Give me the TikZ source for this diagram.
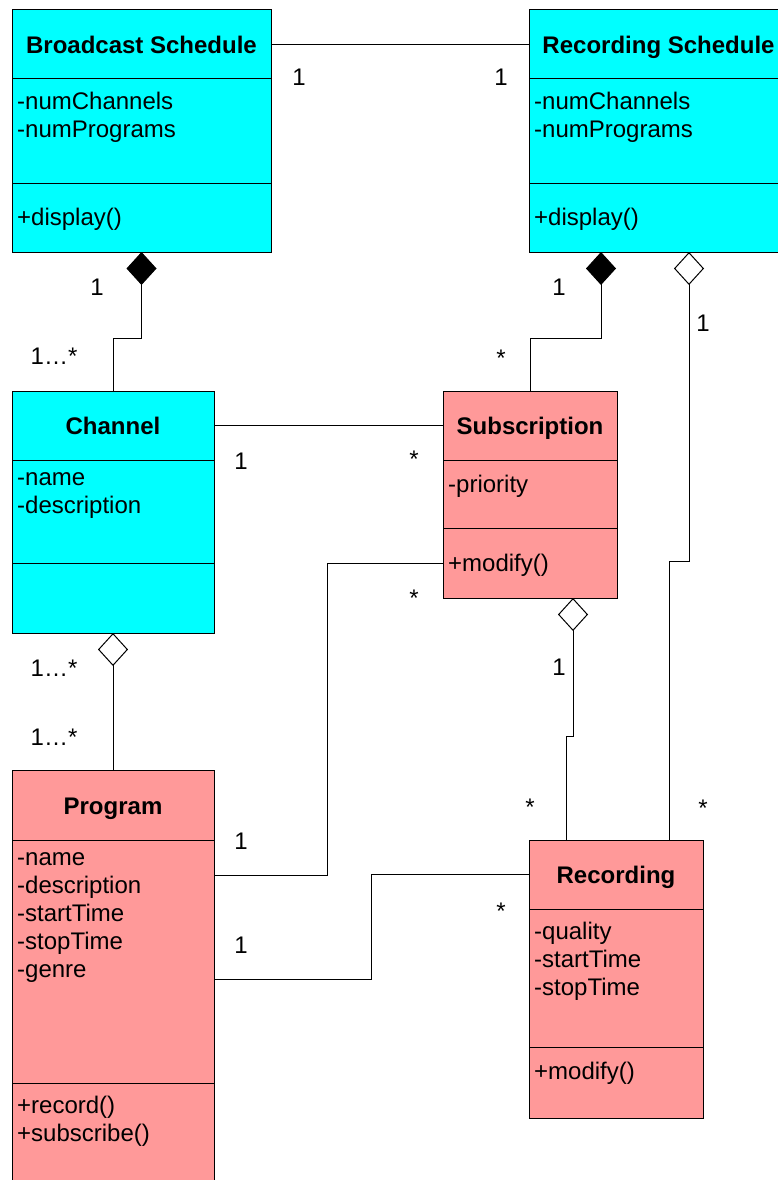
\documentclass[tikz,border=0pt]{standalone}
\usepackage{fontspec}
\setmainfont{Liberation Sans}
\usetikzlibrary{positioning,arrows.meta}

\definecolor{schedcyan}{HTML}{00FFFF}
\definecolor{recpink}{HTML}{FF9999}

\tikzset{
  cls/.style={draw, line width=1pt, outer sep=0pt, inner sep=0pt},
  clshead/.style={cls, text height=18pt, text depth=0pt, font=\bfseries\fontsize{24}{28}\selectfont},
  members/.style={anchor=north west, align=left, inner xsep=5pt, inner ysep=12.5pt, execute at begin node=\strut},
  mult/.style={anchor=base, inner sep=0pt},
  assoc/.style={line width=1pt},
  comp/.style={assoc, {Diamond[length=33pt,width=30pt]}-},
  agg/.style={assoc, {Diamond[open,length=33pt,width=30pt,fill=white]}-},
}

\begin{document}
\begin{tikzpicture}[x=1pt, y=-1pt, font=\fontsize{24}{28}\selectfont]
  \useasboundingbox (0,0) rectangle (778,1180);
  \clip (0,0) rectangle (778,1180);

  % Broadcast Schedule
  \node[clshead, fill=schedcyan, minimum width=259pt, minimum height=69pt, anchor=north west] (bs) at (12,10) {Broadcast Schedule};
  \node[cls, fill=schedcyan, minimum width=259pt, minimum height=104pt, below=0pt of bs] (bsattr) {};
  \node[cls, fill=schedcyan, minimum width=259pt, minimum height=69pt, below=0pt of bsattr] (bsops) {};
  \node[members] (bsattrtxt) at (bsattr.north west) {-numChannels\\-numPrograms};
  \node[anchor=west, inner xsep=5pt, yshift=-2pt] (bsopstxt) at (bsops.west) {+display()};

  % Recording Schedule
  \node[clshead, fill=schedcyan, minimum width=259pt, minimum height=69pt, anchor=north west] (rs) at (529,10) {Recording Schedule};
  \node[cls, fill=schedcyan, minimum width=259pt, minimum height=104pt, below=0pt of rs] (rsattr) {};
  \node[cls, fill=schedcyan, minimum width=259pt, minimum height=69pt, below=0pt of rsattr] (rsops) {};
  \node[members] (rsattrtxt) at (rsattr.north west) {-numChannels\\-numPrograms};
  \node[anchor=west, inner xsep=5pt, yshift=-2pt] (rsopstxt) at (rsops.west) {+display()};

  % Channel
  \node[clshead, fill=schedcyan, minimum width=202pt, minimum height=69pt, anchor=north west] (ch) at (12,391) {Channel};
  \node[cls, fill=schedcyan, minimum width=202pt, minimum height=103pt, below=0pt of ch] (chattr) {};
  \node[cls, fill=schedcyan, minimum width=202pt, minimum height=70pt, below=0pt of chattr] (chops) {};
  \node[members] (chattrtxt) at (chattr.north west) {-name\\-description};

  % Subscription
  \node[clshead, fill=recpink, minimum width=174pt, minimum height=69pt, anchor=north west] (sub) at (443,391) {Subscription};
  \node[cls, fill=recpink, minimum width=174pt, minimum height=68pt, below=0pt of sub] (subattr) {};
  \node[cls, fill=recpink, minimum width=174pt, minimum height=70pt, below=0pt of subattr] (subops) {};
  \node[members] (subattrtxt) at (subattr.north west) {-priority};
  \node[anchor=west, inner xsep=5pt, yshift=-2pt] (subopstxt) at (subops.west) {+modify()};

  % Program
  \node[clshead, fill=recpink, minimum width=202pt, minimum height=70pt, anchor=north west] (prg) at (12,770) {Program};
  \node[cls, fill=recpink, minimum width=202pt, minimum height=243pt, below=0pt of prg] (prgattr) {};
  \node[cls, fill=recpink, minimum width=202pt, minimum height=130pt, below=0pt of prgattr] (prgops) {};
  \node[members] (prgattrtxt) at (prgattr.north west) {-name\\-description\\-startTime\\-stopTime\\-genre};
  \node[members] (prgopstxt) at (prgops.north west) {+record()\\+subscribe()};

  % Recording
  \node[clshead, fill=recpink, minimum width=174pt, minimum height=69pt, anchor=north west] (rec) at (529,840) {Recording};
  \node[cls, fill=recpink, minimum width=174pt, minimum height=138pt, below=0pt of rec] (recattr) {};
  \node[cls, fill=recpink, minimum width=174pt, minimum height=71pt, below=0pt of recattr] (recops) {};
  \node[members] (recattrtxt) at (recattr.north west) {-quality\\-startTime\\-stopTime};
  \node[members] (recopstxt) at (recops.north west) {+modify()};

  % associations
  \draw[assoc] (bs.east) -- (rs.west);
  \draw[comp] (bsops.south) -- ++(0,86) -| (ch.north);
  \draw[comp] ([xshift=72pt]rsops.south west) -- ++(0,86) -| (sub.north);
  \draw[agg] ([xshift=160pt]rsops.south west) -- ++(0,309) -| ([xshift=140pt]rec.north west);
  \draw[assoc] (ch.east) -- (sub.west);
  \draw[agg] (chops.south) -- (prg.north);
  \draw[assoc] (subops.west) -- ++(-116,0) |- ([yshift=-35pt]prgattr.north east);
  \draw[agg] ([xshift=130pt]subops.south west) -- ++(0,138) -| ([xshift=37pt]rec.north west);
  \draw[assoc] ([yshift=-139pt]prgattr.north east) -- ++(157,0) |- (rec.west);

  % multiplicities
  \node[mult] (mbsrs) at (299,86) {1};
  \node[mult] (mrsbs) at (501,86) {1};
  \node[mult] (mbsch) at (97,295) {1};
  \node[mult] (mchbs) at (54,364) {1…*};
  \node[mult] (mrssub) at (559,295) {1};
  \node[mult] (msubrs) at (501,366) {*};
  \node[mult] (mrsrec) at (703,331) {1};
  \node[mult] (mrecrs) at (703,816) {*};
  \node[mult] (mchsub) at (241,469) {1};
  \node[mult] (msubch) at (414,467) {*};
  \node[mult] (msubprg) at (414,606) {*};
  \node[mult] (mprgsub) at (241,849) {1};
  \node[mult] (mprgrec) at (241,953) {1};
  \node[mult] (mrecprg) at (501,919) {*};
  \node[mult] (msubrec) at (559,675) {1};
  \node[mult] (mrecsub) at (530,815) {*};
  \node[mult] (mchprg) at (54,676) {1…*};
  \node[mult] (mprgch) at (54,745) {1…*};
\end{tikzpicture}
\end{document}
